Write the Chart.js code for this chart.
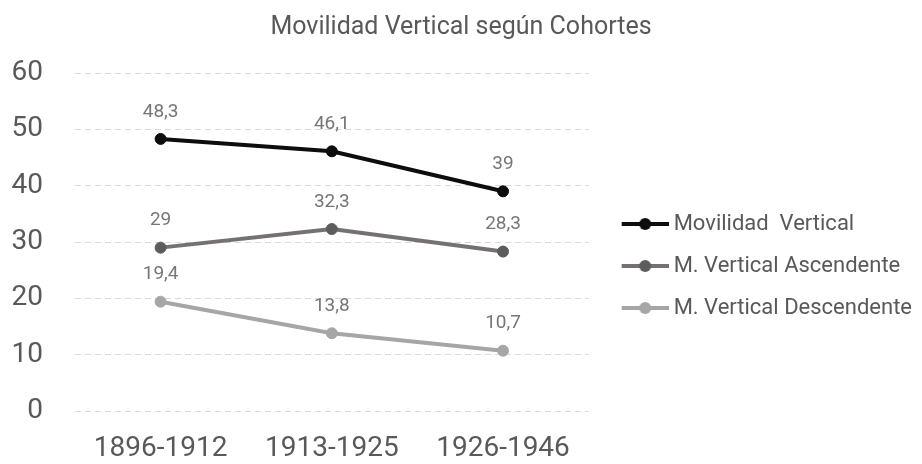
<!DOCTYPE html>
<html>
<head>
    <title>Movilidad Vertical</title>
    <script src="https://cdn.jsdelivr.net/npm/chart.js"></script>
    <style>
        body { margin: 0; background: #fff; }
        #wrap { width: 922px; height: 464px; }
    </style>
</head>
<body>
    <div id="wrap"><canvas id="chart"></canvas></div>

    <script>
        const cohortes = ['1896-1912', '1913-1925', '1926-1946'];
        const movilidadVertical = [48.3, 46.1, 39];
        const ascendente = [29, 32.3, 28.3];
        const descendente = [19.4, 13.8, 10.7];
        const yTicks = [0, 10, 20, 30, 40, 50, 60];

        const FONT = 'Roboto';
        const TEXT = '#595959';

        // line + dot image for the legend, drawn in the right part of a wider canvas
        function legendIcon(color, dot) {
            const c = document.createElement('canvas');
            c.width = 66; c.height = 14;
            const g = c.getContext('2d');
            g.strokeStyle = color;
            g.lineWidth = 4;
            g.beginPath();
            g.moveTo(19, 7);
            g.lineTo(66, 7);
            g.stroke();
            g.fillStyle = dot;
            g.beginPath();
            g.arc(42.5, 7, 6, 0, Math.PI * 2);
            g.fill();
            return c;
        }

        const valueLabels = {
            id: 'valueLabels',
            afterDatasetsDraw(chart) {
                const ctx = chart.ctx;
                ctx.save();
                ctx.font = '19px ' + FONT;
                ctx.fillStyle = '#767676';
                ctx.textAlign = 'center';
                ctx.textBaseline = 'middle';
                chart.data.datasets.forEach((ds, i) => {
                    chart.getDatasetMeta(i).data.forEach((pt, j) => {
                        const txt = String(ds.data[j]).replace('.', ',');
                        ctx.fillText(txt, pt.x, pt.y - 27);
                    });
                });
                ctx.restore();
            }
        };

        const series = [
            { label: 'Movilidad  Vertical', data: movilidadVertical, line: '#0d0d0d', dot: '#0d0d0d' },
            { label: 'M. Vertical Ascendente', data: ascendente, line: '#757171', dot: '#5e5b5b' },
            { label: 'M. Vertical Descendente', data: descendente, line: '#a6a6a6', dot: '#a6a6a6' }
        ];

        function draw() {
            new Chart(document.getElementById('chart'), {
                type: 'line',
                data: {
                    labels: cohortes,
                    datasets: series.map(s => ({
                        label: s.label,
                        data: s.data,
                        borderColor: s.line,
                        backgroundColor: s.dot,
                        pointBackgroundColor: s.dot,
                        pointBorderColor: s.dot,
                        borderWidth: 4,
                        pointRadius: 5.5,
                        pointBorderWidth: 1,
                        tension: 0,
                        icon: legendIcon(s.line, s.dot)
                    }))
                },
                options: {
                    responsive: true,
                    maintainAspectRatio: false,
                    animation: false,
                    layout: { padding: { left: 0, right: 0, top: 0, bottom: 8 } },
                    plugins: {
                        title: {
                            display: true,
                            text: 'Movilidad Vertical según Cohortes',
                            color: TEXT,
                            font: { family: FONT, size: 25, weight: 'normal' },
                            padding: { top: 13, bottom: 30 }
                        },
                        legend: {
                            position: 'right',
                            maxWidth: 420,
                            // empty title only used to push the items down
                            title: {
                                display: true,
                                text: ' ',
                                font: { family: FONT, size: 10 },
                                padding: { top: 64, bottom: 0 }
                            },
                            labels: {
                                color: TEXT,
                                font: { family: FONT, size: 22 },
                                usePointStyle: true,
                                pointStyleWidth: 54,
                                padding: 20,
                                generateLabels(chart) {
                                    return chart.data.datasets.map((ds, i) => ({
                                        text: ds.label,
                                        fontColor: TEXT,
                                        pointStyle: ds.icon,
                                        datasetIndex: i,
                                        hidden: false,
                                        lineWidth: 0
                                    }));
                                }
                            }
                        },
                        tooltip: { enabled: false }
                    },
                    scales: {
                        x: {
                            offset: true,
                            grid: { display: false, drawTicks: false },
                            border: { display: false },
                            afterFit(scale) { scale.height = 45; },
                            ticks: {
                                color: TEXT,
                                font: { family: FONT, size: 28 },
                                padding: 21
                            }
                        },
                        y: {
                            min: 0,
                            max: 60,
                            afterBuildTicks(axis) {
                                axis.ticks = yTicks.map(v => ({ value: v }));
                            },
                            afterFit(scale) { scale.width = 75; },
                            grid: { color: '#d9d9d9', lineWidth: 1, drawTicks: false },
                            border: { display: false, dash: [6, 4] },
                            ticks: {
                                color: TEXT,
                                font: { family: FONT, size: 28 },
                                padding: 32
                            }
                        }
                    }
                },
                plugins: [valueLabels]
            });
        }

        Promise.all([
            document.fonts.load('22px Roboto'),
            document.fonts.load('28px Roboto')
        ]).then(draw, draw);
    </script>
</body>
</html>
